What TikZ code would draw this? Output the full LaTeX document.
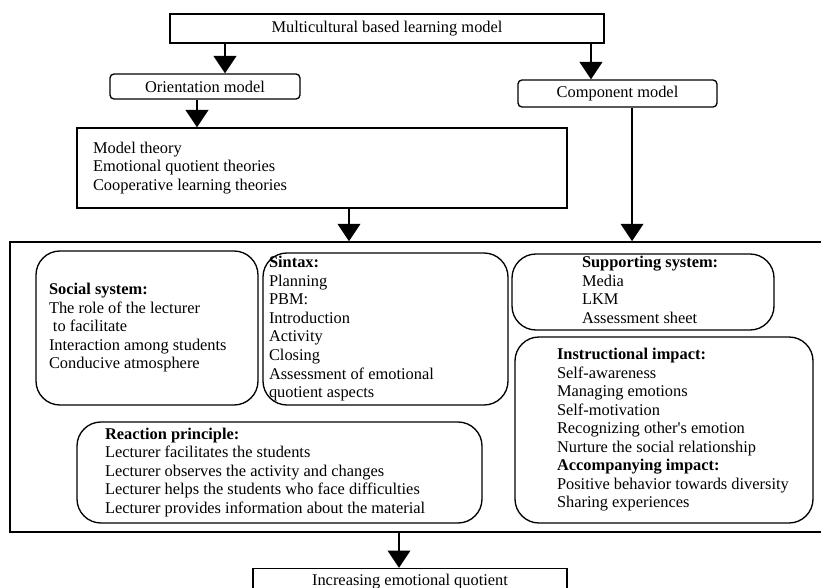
\documentclass[tikz,border=0pt]{standalone}
\usepackage{fontspec}
\setmainfont{Liberation Serif}
\usetikzlibrary{positioning,calc,arrows.meta}

% left-aligned text block inside a box of fixed width
\newcommand{\boxtext}[3]{\makebox[#1][l]{\hspace*{#2}\begin{tabular}{@{}l@{}}#3\end{tabular}}}

\begin{document}
\begin{tikzpicture}[x=0.75pt,y=-0.75pt]
        % Styles for boxes and arrows
        \tikzstyle{box} = [
            draw=black,
            line width=1pt,
            inner sep=0pt,
            font=\fontsize{12.3}{13.9}\selectfont
        ]
        \tikzstyle{smallround} = [box, rounded corners=3pt]
        \tikzstyle{biground} = [box, rounded corners=18pt]
        \tikzstyle{arr} = [line width=1.2pt, -{Triangle[length=13pt, width=17pt]}]

        \useasboundingbox (0,0) rectangle (821,588);

        % Top part
        \node[box, minimum width=325.5pt, minimum height=21.75pt] (multi) at (387,28.5) {Multicultural based learning model};
        \node[smallround, minimum width=142.5pt, minimum height=18.75pt] (orient) at (205,86.5) {Orientation model};
        \node[smallround, minimum width=149.25pt, minimum height=20.25pt] (comp) at (617.5,93.5) {Component model};
        \node[box, minimum height=60pt] (theory) at (322,168)
            {\boxtext{367.5pt}{12pt}{Model theory\\ Emotional quotient theories\\ Cooperative learning theories}};

        % Big frame with the inner boxes
        \node[box, line width=1.2pt, minimum width=611.25pt, minimum height=217.5pt] (frame) at (417.5,387) {};

        \node[biground, minimum height=115.5pt] (social) at (147,328)
            {\boxtext{166.5pt}{9.75pt}{\textbf{Social system:}\\ The role of the lecturer\\ \hspace{3pt}to facilitate\\ Interaction among students\\ Conducive atmosphere}};
        \node[biground, minimum height=114pt] (sintax) at (385.5,329)
            {\boxtext{183.75pt}{4.5pt}{\textbf{Sintax:}\\ Planning\\ PBM:\\ Introduction\\ Activity\\ Closing\\ Assessment of emotional\\ quotient aspects}};
        \node[biground, minimum height=57pt] (support) at (643,292)
            {\boxtext{196.5pt}{52.5pt}{\textbf{Supporting system:}\\ Media\\ LKM\\ Assessment sheet}};
        \node[biground, minimum height=139.5pt] (impact) at (664,430)
            {\boxtext{223.5pt}{31.5pt}{\textbf{Instructional impact:}\\ Self-awareness\\ Managing emotions\\ Self-motivation\\ Recognizing other\textquotesingle s emotion\\ Nurture the social relationship\\ \textbf{Accompanying impact:}\\ Positive behavior towards diversity\\ Sharing experiences}};
        \node[biground, minimum height=75.75pt] (reaction) at (279.5,472.5)
            {\boxtext{303.75pt}{21pt}{\textbf{Reaction principle:}\\ Lecturer facilitates the students\\ Lecturer observes the activity and changes\\ Lecturer helps the students who face difficulties\\ Lecturer provides information about the material}};

        % Result
        \node[box, minimum width=235.5pt, minimum height=20.25pt] (result) at (410,582) {Increasing emotional quotient};

        % Arrows
        \draw[arr] ([xshift=15pt]orient.north |- multi.south) -- ([xshift=15pt]orient.north);
        \draw[arr] ([xshift=-19.9pt]comp.north |- multi.south) -- ([xshift=-19.9pt]comp.north);
        \draw[arr] ([xshift=-6pt]orient.south) -- ([xshift=-6pt]orient.south |- theory.north);
        \draw[arr] ([xshift=20.25pt]theory.south) -- ([xshift=20.25pt]theory.south |- frame.north);
        \draw[arr] ([xshift=10.9pt]comp.south) -- ([xshift=10.9pt]comp.south |- frame.north);
        \draw[arr] ([xshift=-8.25pt]result.north |- frame.south) -- ([xshift=-8.25pt]result.north);

    \end{tikzpicture}
\end{document}
